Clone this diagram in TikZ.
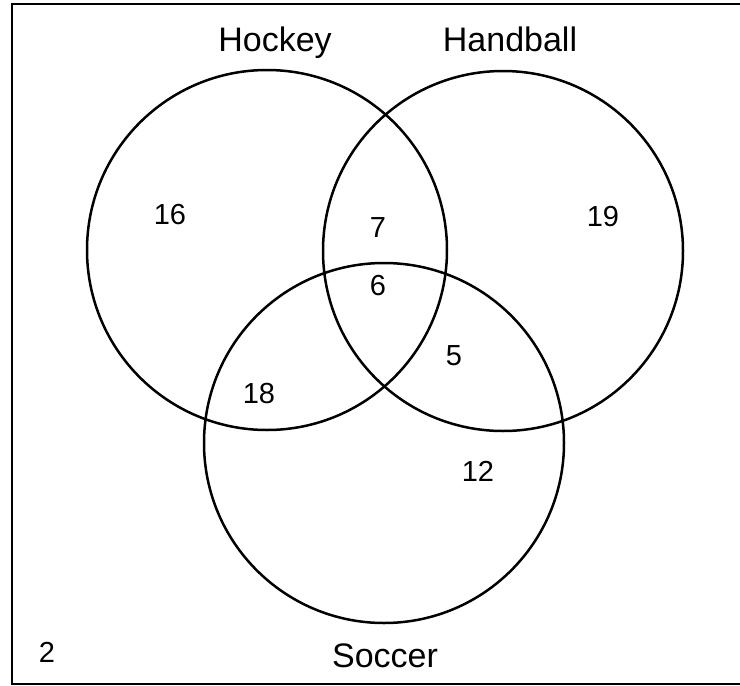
\documentclass[tikz,border=0pt]{standalone}
\usepackage{fontspec}
\setmainfont{Liberation Sans}
\begin{document}
\begin{tikzpicture}[x=1pt,y=-1pt,
  setc/.style={circle,draw=black,line width=2.5pt,minimum size=360pt,inner sep=0pt},
  lbl/.style={anchor=base,inner sep=0pt,font=\fontsize{34}{40}\selectfont},
  num/.style={anchor=base,inner sep=0pt,font=\fontsize{29}{34}\selectfont}]
\useasboundingbox (0,0) rectangle (740,686);
% frame
\coordinate (ftr) at (740,4);
\coordinate (ftl) at (12,4);
\coordinate (fbl) at (12,684);
\coordinate (fbr) at (740,684);
\draw[line width=2.5pt] (ftr) -- (ftl) -- (fbl) -- (fbr);
% circles
\node[setc] (hockey) at (267,250) {};
\node[setc] (handball) at (503,251) {};
\node[setc] (soccer) at (384,443) {};
% labels
\node[lbl] (lh) at (275,51) {Hockey};
\node[lbl] (lhb) at (510,51) {Handball};
\node[lbl] (ls) at (385,667) {Soccer};
% numbers
\node[num] (n16) at (170,224) {16};
\node[num] (n7) at (378,237) {7};
\node[num] (n19) at (603,226) {19};
\node[num] (n6) at (378,295) {6};
\node[num] (n5) at (454,365) {5};
\node[num] (n18) at (259,403) {18};
\node[num] (n12) at (478,481) {12};
\node[num] (n2) at (47,662) {2};
\end{tikzpicture}
\end{document}
